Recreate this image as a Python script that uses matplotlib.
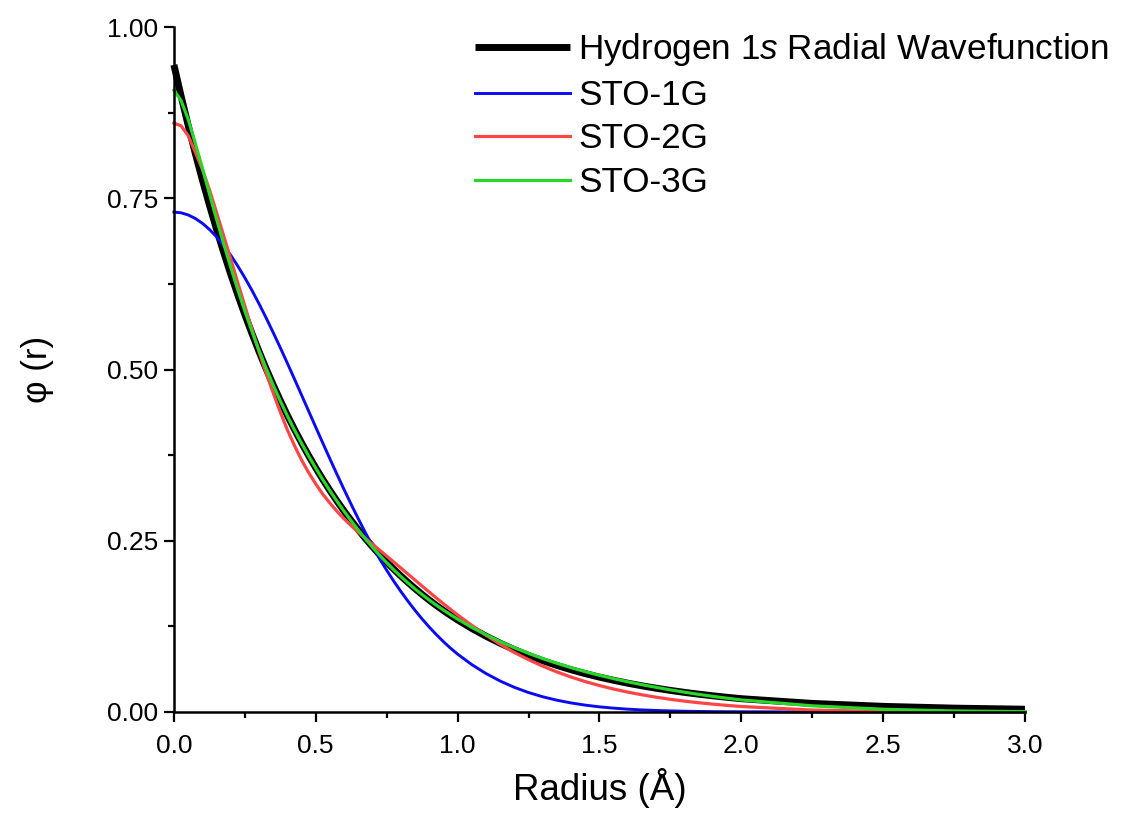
import matplotlib
matplotlib.use("Agg")
import matplotlib.pyplot as plt
from matplotlib.ticker import MultipleLocator, FormatStrFormatter

plt.rcParams['font.family'] = ['Liberation Sans', 'DejaVu Sans']
plt.rcParams['mathtext.fontset'] = 'custom'
plt.rcParams['mathtext.rm'] = 'Liberation Sans'
plt.rcParams['mathtext.it'] = 'Liberation Sans:italic'

# Radius grid (Å)
radius = [0.0, 0.025, 0.05, 0.075, 0.1, 0.125, 0.15, 0.175, 0.2, 0.225,
          0.25, 0.275, 0.3, 0.325, 0.35, 0.375, 0.4, 0.425, 0.45, 0.475,
          0.5, 0.525, 0.55, 0.575, 0.6, 0.625, 0.65, 0.675, 0.7, 0.725,
          0.75, 0.775, 0.8, 0.825, 0.85, 0.875, 0.9, 0.925, 0.95, 0.975, 1.0,
          1.05, 1.1, 1.15, 1.2, 1.25, 1.3, 1.35, 1.4, 1.45, 1.5,
          1.55, 1.6, 1.65, 1.7, 1.75, 1.8, 1.85, 1.9, 1.95, 2.0,
          2.25, 2.5, 2.75, 3.0]

hydrogen_1s = [0.945, 0.9000, 0.8572, 0.8164, 0.7776, 0.7406, 0.7053, 0.6718, 0.6398, 0.6094,
               0.5804, 0.5528, 0.5265, 0.5014, 0.4776, 0.4549, 0.4332, 0.4126, 0.3930, 0.3743,
               0.3565, 0.3395, 0.3234, 0.3080, 0.2933, 0.2794, 0.2661, 0.2534, 0.2414, 0.2299,
               0.2189, 0.2085, 0.1986, 0.1892, 0.1802, 0.1716, 0.1634, 0.1556, 0.1482, 0.1412, 0.1345,
               0.1220, 0.1107, 0.1004, 0.0911, 0.0826, 0.0749, 0.0680, 0.0617, 0.0560, 0.0509,
               0.0463, 0.0420, 0.0382, 0.0347, 0.0315, 0.0286, 0.0260, 0.0236, 0.0214, 0.0194,
               0.0125, 0.0082, 0.0056, 0.0040]

sto_1g = [0.7300, 0.7290, 0.7259, 0.7208, 0.7138, 0.7048, 0.6940, 0.6814, 0.6672, 0.6514,
          0.6342, 0.6158, 0.5962, 0.5756, 0.5541, 0.5320, 0.5093, 0.4862, 0.4628, 0.4394,
          0.4159, 0.3926, 0.3696, 0.3469, 0.3247, 0.3031, 0.2821, 0.2619, 0.2424, 0.2237,
          0.2070, 0.1910, 0.1760, 0.1618, 0.1484, 0.1358, 0.1240, 0.1130, 0.1027, 0.0932, 0.0845,
          0.0692, 0.0562, 0.0452, 0.0360, 0.0284, 0.0222, 0.0172, 0.0132, 0.0100, 0.0075,
          0.0056, 0.0041, 0.0030, 0.0022, 0.0016, 0.0011, 0.0008, 0.0005, 0.0004, 0.0003,
          0.0001, 0.0, 0.0, 0.0]

sto_2g = [0.860, 0.856, 0.842, 0.818, 0.793, 0.763, 0.730, 0.696, 0.662, 0.627,
          0.593, 0.559, 0.526, 0.495, 0.466, 0.438, 0.412, 0.389, 0.368, 0.3495,
          0.333, 0.318, 0.305, 0.293, 0.282, 0.272, 0.2625, 0.2534, 0.2448, 0.2364,
          0.2277, 0.2190, 0.2102, 0.2014, 0.1926, 0.1838, 0.1751, 0.1665, 0.1581, 0.1499, 0.1418,
          0.1265, 0.1122, 0.0989, 0.0869, 0.0764, 0.0669, 0.0585, 0.0510, 0.0444, 0.0386,
          0.0335, 0.0290, 0.0251, 0.0216, 0.0185, 0.0158, 0.0135, 0.0114, 0.0096, 0.0080,
          0.0028, 0.0008, 0.0002, 0.0]

sto_3g = [0.908, 0.893, 0.866, 0.831, 0.795, 0.757, 0.720, 0.6845, 0.650, 0.617,
          0.5857, 0.5561, 0.5282, 0.5019, 0.4773, 0.4542, 0.4324, 0.4118, 0.3923, 0.3737,
          0.3560, 0.3391, 0.3230, 0.3077, 0.2930, 0.2790, 0.2656, 0.2528, 0.2406, 0.2290,
          0.2180, 0.2076, 0.1978, 0.1885, 0.1797, 0.1714, 0.1635, 0.1560, 0.1489, 0.1421, 0.1357,
          0.1236, 0.1128, 0.1029, 0.0939, 0.0856, 0.0780, 0.0711, 0.0647, 0.0589, 0.0536,
          0.0487, 0.0441, 0.0399, 0.0360, 0.0323, 0.0289, 0.0257, 0.0228, 0.0201, 0.0176,
          0.0090, 0.0040, 0.0015, 0.0005]

labels = ["Hydrogen 1$\\it{s}$ Radial Wavefunction", "STO-1G", "STO-2G", "STO-3G"]

fig = plt.figure(figsize=(11.22, 8.25), dpi=100)
ax = fig.add_axes([0.155, 0.137, 0.7585, 0.830])

ax.plot(radius, hydrogen_1s, color='black', lw=5.0, label=labels[0], clip_on=False,
        solid_capstyle='butt', solid_joinstyle='round')
ax.plot(radius, sto_1g, color='#0A0AF5', lw=2.1, label=labels[1], clip_on=False)
ax.plot(radius, sto_2g, color='#FF4545', lw=2.3, label=labels[2], clip_on=False)
ax.plot(radius, sto_3g, color='#2BD62B', lw=2.3, label=labels[3], clip_on=False)

ax.set_xlim(0, 3.0)
ax.set_ylim(0, 1.0)
ax.spines['top'].set_visible(False)
ax.spines['right'].set_visible(False)
for s in ('left', 'bottom'):
    ax.spines[s].set_linewidth(1.8)

ax.xaxis.set_major_locator(MultipleLocator(0.5))
ax.xaxis.set_minor_locator(MultipleLocator(0.25))
ax.yaxis.set_major_locator(MultipleLocator(0.25))
ax.yaxis.set_minor_locator(MultipleLocator(0.125))
ax.xaxis.set_major_formatter(FormatStrFormatter('%.1f'))
ax.yaxis.set_major_formatter(FormatStrFormatter('%.2f'))
ax.tick_params(which='major', direction='out', length=7, width=1.6)
ax.tick_params(which='minor', direction='out', length=4, width=1.6)
ax.tick_params(axis='x', labelsize=19, pad=9)
ax.tick_params(axis='y', labelsize=19, pad=4.5)

ax.set_xlabel("Radius (Å)", fontsize=26.5, labelpad=7)
ax.set_ylabel("φ (r)", fontsize=25, labelpad=38)

leg = fig.legend(loc='upper left', bbox_to_anchor=(0.4234, 0.962), frameon=False,
                 fontsize=25.3, handlelength=2.7, handletextpad=0.23, labelspacing=0.30,
                 borderpad=0, borderaxespad=0)

fig.savefig("out.png", dpi=100)
